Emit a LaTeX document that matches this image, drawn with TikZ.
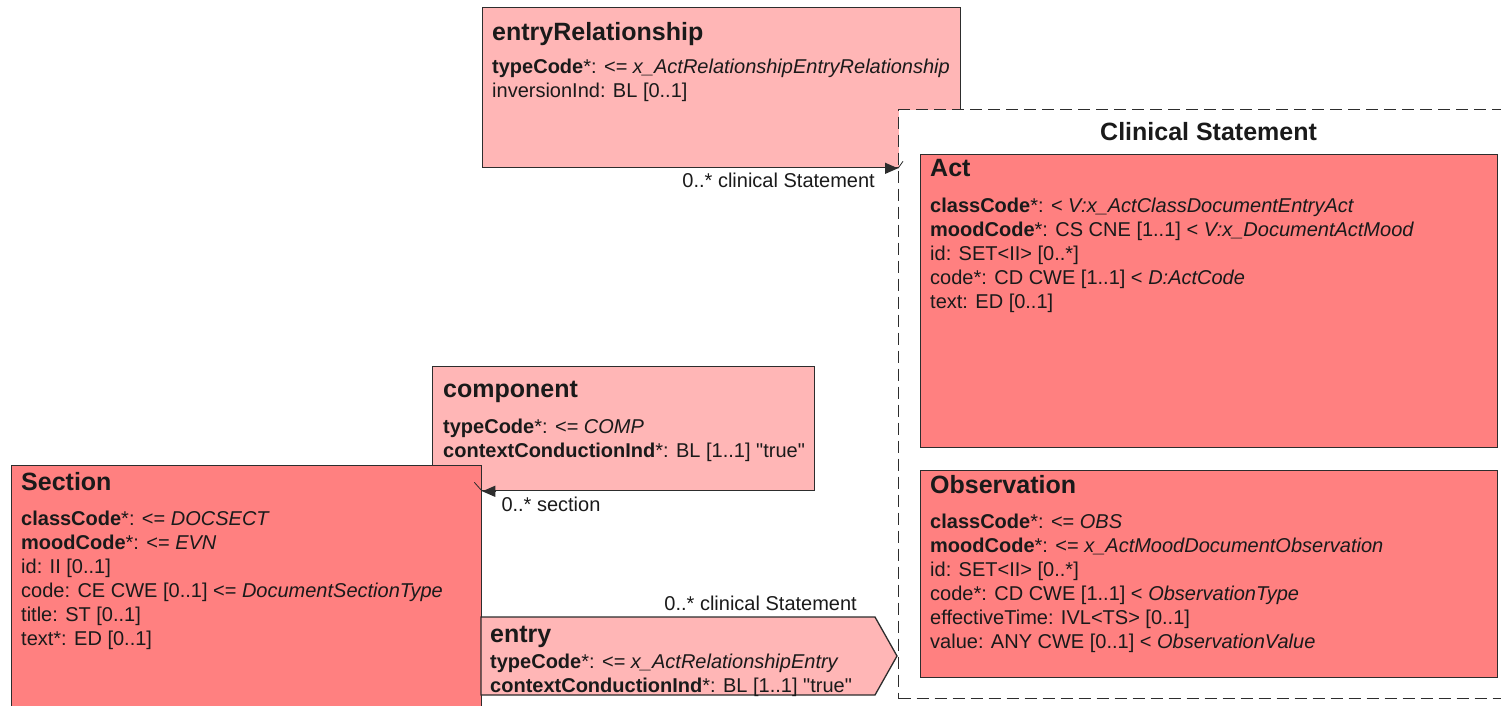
\documentclass[tikz,border=0pt]{standalone}
\usepackage{fontspec}
\setmainfont{Liberation Sans}[Ligatures=TeXOff]
\usetikzlibrary{positioning,calc,arrows.meta}
\definecolor{classe}{RGB}{255,128,128}
\definecolor{relation}{RGB}{255,182,182}
\definecolor{trait}{RGB}{45,45,45}
\definecolor{texte}{RGB}{26,26,26}

\begin{document}
\begin{tikzpicture}[x=1pt, y=-1pt,
	boite/.style={draw=trait, line width=1.3pt, inner sep=0pt, anchor=north west},
	cls/.style={boite, fill=classe},
	rel/.style={boite, fill=relation},
	titre/.style={inner sep=0pt, text=texte, font=\fontsize{25}{30}\selectfont\bfseries},
	attr/.style={inner sep=0pt, text=texte, align=left, font=\fontsize{20}{24}\selectfont},
	etiq/.style={inner sep=0pt, text=texte, font=\fontsize{20}{24}\selectfont},
	lien/.style={draw=trait, line width=1.3pt, -{Triangle[length=13pt,width=11pt]}},
	coche/.style={draw=trait, line width=0.8pt}]
	\useasboundingbox (0,0) rectangle (1501,705);
	
	% entryRelationship
	\node[rel, minimum width=478pt, minimum height=160pt] (er) at (482,7) {};
	\node[titre, below right=15pt and 10pt of er.north west] (er-t) {entryRelationship};
	\node[attr, below right=52pt and 10pt of er.north west] (er-a) {\textbf{typeCode}*: <= \textit{x\_ActRelationshipEntryRelationship}\\ inversionInd: BL [0..1]};
	
	% Cadre Clinical Statement
	\node[boite, fill=white, line width=1.1pt, dash pattern=on 12pt off 6pt, minimum width=620pt, minimum height=589pt] (cs) at (898,109) {};
	\node[titre, below=13pt of cs.north] (cs-t) {Clinical Statement};
	
	\node[cls, minimum width=577pt, minimum height=293pt] (act) at (920,154) {};
	\node[titre, below right=5pt and 10pt of act.north west] (act-t) {Act};
	\node[attr, below right=44pt and 10pt of act.north west] (act-a) {\textbf{classCode}*: < \textit{V:x\_ActClassDocumentEntryAct}\\ \textbf{moodCode}*: CS CNE [1..1] < \textit{V:x\_DocumentActMood}\\ id: SET<II> [0..*]\\ code*: CD CWE [1..1] < \textit{D:ActCode}\\ text: ED [0..1]};
	
	\node[cls, minimum width=577pt, minimum height=207pt] (obs) at (920,470) {};
	\node[titre, below right=5pt and 10pt of obs.north west] (obs-t) {Observation};
	\node[attr, below right=44pt and 10pt of obs.north west] (obs-a) {\textbf{classCode}*: <= \textit{OBS}\\ \textbf{moodCode}*: <= \textit{x\_ActMoodDocumentObservation}\\ id: SET<II> [0..*]\\ code*: CD CWE [1..1] < \textit{ObservationType}\\ effectiveTime: IVL<TS> [0..1]\\ value: ANY CWE [0..1] < \textit{ObservationValue}};
	
	% component
	\node[rel, minimum width=382pt, minimum height=124pt] (comp) at (432,366) {};
	\node[titre, below right=15pt and 11pt of comp.north west] (comp-t) {component};
	\node[attr, below right=53pt and 11pt of comp.north west] (comp-a) {\textbf{typeCode}*: <= \textit{COMP}\\ \textbf{contextConductionInd}*: BL [1..1] "true"};
	
	% Section
	\node[cls, minimum width=470pt, minimum height=260pt] (sec) at (11,465) {};
	\node[titre, below right=7pt and 10pt of sec.north west] (sec-t) {Section};
	\node[attr, below right=46pt and 10pt of sec.north west] (sec-a) {\textbf{classCode}*: <= \textit{DOCSECT}\\ \textbf{moodCode}*: <= \textit{EVN}\\ id: II [0..1]\\ code: CE CWE [0..1] <= \textit{DocumentSectionType}\\ title: ST [0..1]\\ text*: ED [0..1]};
	
	% entry
	\coordinate (en-nw) at (481,617);
	\coordinate (en-tip) at (897,656);
	\draw[draw=trait, line width=1.3pt, fill=relation] (en-nw) -- ++(394,0) -- (en-tip) -- ++(-22,39) -- ++(-394,0) -- cycle;
	\node[titre, below right=9pt and 9pt of en-nw] (en-t) {entry};
	\node[attr, below right=37pt and 9pt of en-nw] (en-a) {\textbf{typeCode}*: <= \textit{x\_ActRelationshipEntry}\\ \textbf{contextConductionInd}*: BL [1..1] "true"};
	\node[etiq, anchor=base east] (en-l) at ($(en-tip)+(-40,-46)$) {0..* clinical Statement};
	
	% Associations
	\draw[lien] ($(er.south -| cs.west)+(-13,0)$) -- (er.south -| cs.west);
	\draw[coche] (er.south -| cs.west) -- ++(5,-7);
	\node[etiq, anchor=base east] (er-l) at ($(er.south -| cs.west)+(-23,19)$) {0..* clinical Statement};
	
	\draw[lien] ($(comp.south -| sec.east)+(14,0)$) -- (comp.south -| sec.east);
	\draw[coche] (comp.south -| sec.east) -- ++(-8,-9);
	\node[etiq, anchor=base west] (comp-l) at ($(comp.south -| sec.east)+(19,20)$) {0..* section};
\end{tikzpicture}
\end{document}
